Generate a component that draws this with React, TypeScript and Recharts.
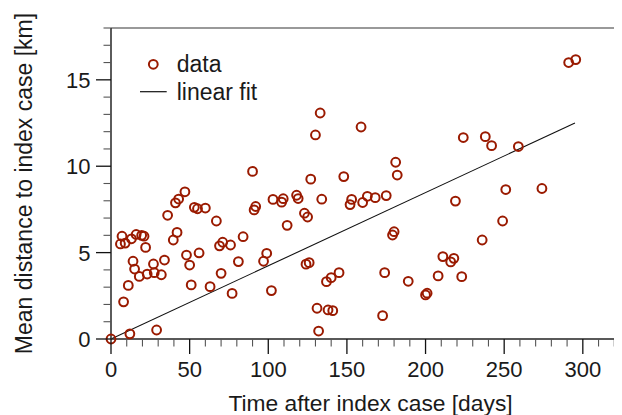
import React from "react";
import {
    ComposedChart,
    Scatter,
    Line,
    XAxis,
    YAxis,
    ReferenceLine,
    Legend
} from "recharts";

// days after the index case
const days = [
    0, 6, 7, 8, 9, 11, 12, 13, 14, 15, 16, 18, 19.5, 21, 22, 23, 27, 27.5, 29, 32,
    34, 36, 39.6, 42, 41, 43, 47, 48, 50, 51, 53, 55, 56, 60, 63, 67, 69, 70, 71, 76,
    77, 81, 84, 90, 91, 92, 97, 99, 102, 103, 108.5, 109.5, 112, 118, 119, 123, 125, 124, 126, 127,
    130, 131, 132, 133, 134, 137, 138, 140, 141, 145, 148, 152, 153, 159, 160, 163, 168, 172.7, 174, 175,
    179, 180, 181, 182, 189, 200, 201, 208, 211, 216, 218, 219, 223, 224, 236, 238, 242, 249, 251, 259,
    274, 291, 295.5
];

// mean distance to index case [km]
const distances = [
    0, 5.5, 5.95, 2.15, 5.55, 3.1, 0.3, 5.8, 4.5, 4.05, 6.05, 3.62, 6.0, 5.95, 5.3, 3.76, 4.34, 3.84, 0.52, 3.72,
    4.57, 7.16, 5.73, 6.17, 7.88, 8.1, 8.52, 4.86, 4.28, 3.13, 7.62, 7.54, 4.98, 7.58, 3.03, 6.83, 5.39, 3.8, 5.6, 5.44,
    2.64, 4.48, 5.92, 9.7, 7.47, 7.67, 4.5, 4.96, 2.8, 8.08, 7.92, 8.12, 6.58, 8.32, 8.13, 7.28, 7.06, 4.33, 4.42, 9.25,
    11.81, 1.78, 0.46, 13.08, 8.09, 3.32, 1.68, 3.55, 1.64, 3.84, 9.4, 7.78, 8.08, 12.27, 7.9, 8.26, 8.18, 1.35, 3.84, 8.3,
    6.02, 6.21, 10.23, 9.49, 3.34, 2.55, 2.65, 3.65, 4.77, 4.46, 4.67, 7.98, 3.61, 11.66, 5.73, 11.71, 11.19, 6.83, 8.65, 11.14,
    8.71, 16.0, 16.17
];

// linear fit end points
const fitDays = [0, 295];
const fitKm = [0, 12.5];

const xTicks = [
    0, 10, 20, 30, 40, 50, 60, 70, 80, 90, 100, 110, 120, 130, 140, 150, 160, 170,
    180, 190, 200, 210, 220, 230, 240, 250, 260, 270, 280, 290, 300, 310, 320, 330
];
const xLabels = [0, 50, 100, 150, 200, 250, 300];
const yTicks = [0, 1, 2, 3, 4, 5, 6, 7, 8, 9, 10, 11, 12, 13, 14, 15, 16, 17, 18];
const yLabels = [0, 5, 10, 15];

const legendNames = ["data", "linear fit"];

const points = days.map((d, i) => ({ x: d, y: distances[i] }));
const fitData = fitDays.map((d, i) => ({ x: d, y: fitKm[i] }));

const FONT = '"Liberation Sans", Arial, Helvetica, sans-serif';
const RED = "#9a1a00";
const TEXT = "#1a1a1a";

const XTick = ({ x, y, payload }: any) => {
    const major = xLabels.includes(payload.value);
    return (
        <g>
            <line
                x1={x}
                x2={x}
                y1={y}
                y2={y + (major ? 15 : 7.5)}
                stroke={major ? "#111" : "#555"}
                strokeWidth={major ? 1.3 : 1.1}
            />
            {major && (
                <text x={x} y={y + 37.7} textAnchor="middle" fontSize={22} fontFamily={FONT} fill={TEXT}>
                    {payload.value}
                </text>
            )}
        </g>
    );
};

const YTick = ({ x, y, payload }: any) => {
    const major = yLabels.includes(payload.value);
    return (
        <g>
            <line
                x1={x - (major ? 15 : 7.5)}
                x2={x}
                y1={y}
                y2={y}
                stroke={major ? "#111" : "#555"}
                strokeWidth={major ? 1.3 : 1.1}
            />
            {major && (
                <text x={x - 20.5} y={y + 8} textAnchor="end" fontSize={22} fontFamily={FONT} fill={TEXT}>
                    {payload.value}
                </text>
            )}
        </g>
    );
};

const Circle = (props: any) => {
    const { cx, cy } = props;
    if (cx == null || cy == null) return <g />;
    return <circle cx={cx} cy={cy} r={4.4} fill="none" stroke={RED} strokeWidth={2} />;
};

const LegendBox = () => (
    <svg width={200} height={110} style={{ display: "block", overflow: "visible" }}>
        <circle cx={145.3} cy={56.3} r={4.4} fill="none" stroke={RED} strokeWidth={2} />
        <text x={168.7} y={63.7} fontSize={23} fontFamily={FONT} fill={TEXT}>
            {legendNames[0]}
        </text>
        <line x1={132} x2={158.7} y1={83.7} y2={83.7} stroke="#111" strokeWidth={1.2} />
        <text x={168.7} y={92} fontSize={23} fontFamily={FONT} fill={TEXT}>
            {legendNames[1]}
        </text>
    </svg>
);

const YLabel = ({ viewBox }: any) => {
    const cy = viewBox.y + viewBox.height / 2;
    return (
        <text
            x={23.5}
            y={cy}
            transform={`rotate(-90, 23.5, ${cy})`}
            textAnchor="middle"
            fontSize={23}
            fontFamily={FONT}
            fill={TEXT}
        >
            Mean distance to index case [km]
        </text>
    );
};

const XLabel = ({ viewBox }: any) => {
    const cx = viewBox.x + viewBox.width / 2;
    return (
        <text x={cx} y={402.7} textAnchor="middle" fontSize={22.8} fontFamily={FONT} fill={TEXT}>
            Time after index case [days]
        </text>
    );
};

export default function App() {
    return (
        <div style={{ width: 614, height: 407, overflow: "hidden", position: "relative" }}>
            <ComposedChart
                width={640}
                height={407}
                margin={{ top: 20, right: 18, left: 0, bottom: 0 }}
            >
                <XAxis
                    type="number"
                    dataKey="x"
                    domain={[0, 330]}
                    ticks={xTicks}
                    interval={0}
                    tick={<XTick />}
                    tickLine={false}
                    tickSize={0}
                    tickMargin={0}
                    height={76}
                    axisLine={{ stroke: "#222", strokeWidth: 1.5 }}
                    label={<XLabel />}
                />
                <YAxis
                    type="number"
                    dataKey="y"
                    domain={[0, 18]}
                    ticks={yTicks}
                    interval={0}
                    tick={<YTick />}
                    tickLine={false}
                    tickSize={0}
                    tickMargin={0}
                    width={103}
                    axisLine={{ stroke: "#333", strokeWidth: 1.6 }}
                    label={<YLabel />}
                />
                <ReferenceLine y={18} stroke="#777" strokeWidth={1.5} />
                <Line
                    data={fitData}
                    dataKey="y"
                    type="linear"
                    stroke="#111"
                    strokeWidth={1.1}
                    dot={false}
                    activeDot={false}
                    isAnimationActive={false}
                    legendType="none"
                />
                <Scatter
                    data={points}
                    dataKey="y"
                    shape={<Circle />}
                    isAnimationActive={false}
                />
                <Legend
                    layout="vertical"
                    align="center"
                    verticalAlign="middle"
                    content={<LegendBox />}
                    wrapperStyle={{ left: 0, top: 0, width: 200, height: 110 }}
                />
            </ComposedChart>
        </div>
    );
}
